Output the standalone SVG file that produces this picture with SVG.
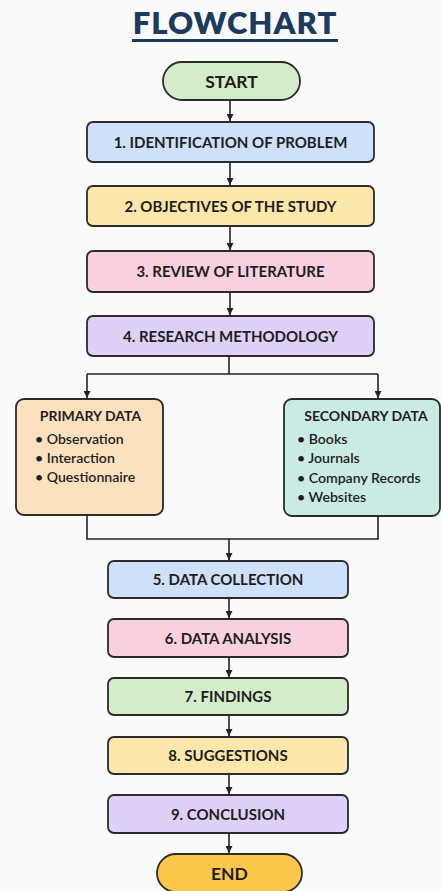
<svg xmlns="http://www.w3.org/2000/svg" width="441" height="891" viewBox="0 0 441 891">
<defs>
<marker id="ah" viewBox="0 0 10 10" refX="10" refY="5" markerWidth="7" markerHeight="7" markerUnits="userSpaceOnUse" orient="auto">
<path d="M0,0 L10,5 L0,10 z" fill="#222"/>
</marker>
<style>
.box{stroke:#2b2b2b;stroke-width:1.8}
.lbl{font-family:Lato,"Open Sans","Liberation Sans",sans-serif;font-weight:700;font-size:15px;fill:#1e1e1e;text-anchor:middle}
.sub{font-size:14px}
.term{font-size:17.5px}
.item{font-family:Lato,"Open Sans","Liberation Sans",sans-serif;font-weight:600;font-size:14.1px;fill:#1e1e1e}
.con{fill:none;stroke:#222;stroke-width:1.6}
</style>
</defs>
<rect width="441" height="891" fill="#fafafa"/>
<g id="title">
<text x="235" y="33.5" font-family="Lato,'Open Sans','Liberation Sans',sans-serif" font-weight="800" font-size="31" fill="#1d3a5f" text-anchor="middle" letter-spacing="1">FLOWCHART</text>
<rect x="132" y="39" width="206" height="3" fill="#1d3a5f"/>
</g>
<g id="connectors">
<line class="con" x1="230" y1="100" x2="230" y2="121" marker-end="url(#ah)"/>
<line class="con" x1="230" y1="162" x2="230" y2="185" marker-end="url(#ah)"/>
<line class="con" x1="230" y1="226" x2="230" y2="250" marker-end="url(#ah)"/>
<line class="con" x1="230" y1="292" x2="230" y2="315" marker-end="url(#ah)"/>
<polyline class="con" points="229,356 229,374"/>
<polyline class="con" points="87,374 378,374"/>
<line class="con" x1="87" y1="374" x2="87" y2="398" marker-end="url(#ah)"/>
<line class="con" x1="378" y1="374" x2="378" y2="398" marker-end="url(#ah)"/>
<polyline class="con" points="87,515 87,539 378,539 378,516"/>
<line class="con" x1="229" y1="539" x2="229" y2="560" marker-end="url(#ah)"/>
<line class="con" x1="229" y1="598" x2="229" y2="618" marker-end="url(#ah)"/>
<line class="con" x1="229" y1="657" x2="229" y2="677" marker-end="url(#ah)"/>
<line class="con" x1="229" y1="715" x2="229" y2="736" marker-end="url(#ah)"/>
<line class="con" x1="229" y1="774" x2="229" y2="794" marker-end="url(#ah)"/>
<line class="con" x1="229" y1="833" x2="229" y2="853" marker-end="url(#ah)"/>
</g>
<g id="start">
<rect class="box" x="163" y="62" width="137" height="38" rx="19" fill="#d5ecca"/>
<text class="lbl term" x="231.5" y="87.5">START</text>
</g>
<g id="n1">
<rect class="box" x="87" y="122" width="287" height="40" rx="6" fill="#cfe0fa"/>
<text class="lbl" x="230.5" y="147.5">1. IDENTIFICATION OF PROBLEM</text>
</g>
<g id="n2">
<rect class="box" x="87" y="186" width="287" height="40" rx="6" fill="#fbe6ab"/>
<text class="lbl" x="230.5" y="211.5">2. OBJECTIVES OF THE STUDY</text>
</g>
<g id="n3">
<rect class="box" x="87" y="251" width="287" height="41" rx="6" fill="#f9d0dd"/>
<text class="lbl" x="230.5" y="276.5">3. REVIEW OF LITERATURE</text>
</g>
<g id="n4">
<rect class="box" x="87" y="316" width="287" height="40" rx="6" fill="#ddd1f7"/>
<text class="lbl" x="230.5" y="341.5">4. RESEARCH METHODOLOGY</text>
</g>
<g id="primary">
<rect class="box" x="16" y="399" width="147" height="116" rx="8" fill="#fce1bf"/>
<text class="lbl sub" x="90.5" y="421">PRIMARY DATA</text>
<text class="item" x="35" y="444">• Observation</text>
<text class="item" x="35" y="463">• Interaction</text>
<text class="item" x="35" y="482">• Questionnaire</text>
</g>
<g id="secondary">
<rect class="box" x="284" y="399" width="156" height="117" rx="8" fill="#c9ebe3"/>
<text class="lbl sub" x="366" y="421">SECONDARY DATA</text>
<text class="item" x="297" y="444">• Books</text>
<text class="item" x="297" y="463">• Journals</text>
<text class="item" x="297" y="483">• Company Records</text>
<text class="item" x="297" y="502">• Websites</text>
</g>
<g id="n5">
<rect class="box" x="108" y="561" width="240" height="37" rx="6" fill="#cfe0fa"/>
<text class="lbl" x="228" y="585">5. DATA COLLECTION</text>
</g>
<g id="n6">
<rect class="box" x="108" y="619" width="240" height="38" rx="6" fill="#f9d0dd"/>
<text class="lbl" x="228" y="643.5">6. DATA ANALYSIS</text>
</g>
<g id="n7">
<rect class="box" x="108" y="678" width="240" height="37" rx="6" fill="#d5ecca"/>
<text class="lbl" x="228" y="702">7. FINDINGS</text>
</g>
<g id="n8">
<rect class="box" x="108" y="737" width="240" height="37" rx="6" fill="#fbe6ab"/>
<text class="lbl" x="228" y="761">8. SUGGESTIONS</text>
</g>
<g id="n9">
<rect class="box" x="108" y="795" width="240" height="38" rx="6" fill="#ddd1f7"/>
<text class="lbl" x="228" y="819.5">9. CONCLUSION</text>
</g>
<g id="end">
<rect class="box" x="157" y="854" width="145" height="38" rx="19" fill="#fcc84c"/>
<text class="lbl term" x="229.5" y="879.5">END</text>
</g>
</svg>
